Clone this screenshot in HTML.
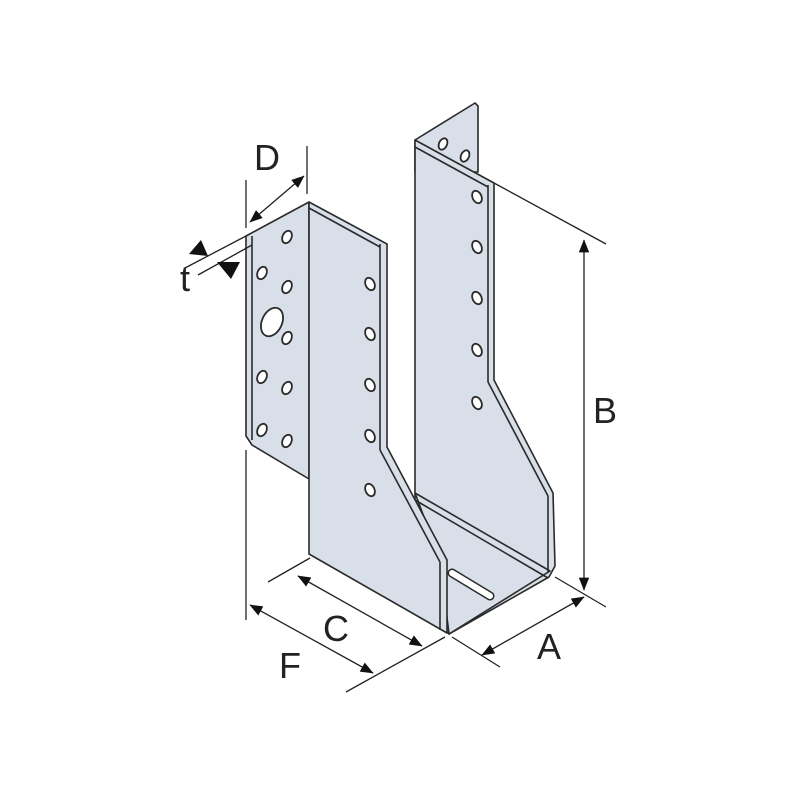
<!DOCTYPE html>
<html><head><style>html,body{margin:0;padding:0;background:#fff;}svg{display:block}</style></head>
<body>
<svg width="800" height="800" viewBox="0 0 800 800" xmlns="http://www.w3.org/2000/svg">
<defs>
<marker id="ar" viewBox="0 0 10 10" refX="9.5" refY="5" markerWidth="13" markerHeight="13" orient="auto-start-reverse" markerUnits="userSpaceOnUse"><path d="M0,1 L10,5 L0,9 z" fill="#111"/></marker>
</defs>
<g stroke="#2a2a2a" stroke-width="1.6" stroke-linejoin="round" fill="#d8dfe8">
<polygon points="415,140 475,103 478,106 478,172 415,172"/>
<polygon points="415,140 494,183 494,380 553,493 555,566 549,577 449,634 415,600"/>
<polygon points="415,493 550,571 449,634 440,560"/>
<line x1="415" y1="500" x2="548" y2="578"/>
<polygon points="246,236 309,202 309,479 252,445 246,436"/>
<line x1="252" y1="236" x2="252" y2="440"/>
<polygon points="309,202 387,244 387,447 447,560 447,633 309,554"/>
<line x1="380" y1="244" x2="380" y2="450"/>
<line x1="380" y1="450" x2="440" y2="562"/>
<line x1="440" y1="562" x2="440" y2="630"/>
<line x1="309" y1="208" x2="380" y2="247"/>
<line x1="488" y1="185" x2="488" y2="382"/>
<line x1="488" y1="382" x2="548" y2="496"/>
<line x1="548" y1="496" x2="548" y2="572"/>
<line x1="415" y1="147" x2="488" y2="187"/>
</g>
<line x1="452" y1="573" x2="490" y2="596" stroke="#2a2a2a" stroke-width="9" stroke-linecap="round"/>
<line x1="452" y1="573" x2="490" y2="596" stroke="#fff" stroke-width="6" stroke-linecap="round"/>
<g fill="#fff" stroke="#2a2a2a" stroke-width="1.8">
<ellipse cx="287" cy="237" rx="4.5" ry="6.5" transform="rotate(25 287 237)"/>
<ellipse cx="262" cy="273" rx="4.5" ry="6.5" transform="rotate(25 262 273)"/>
<ellipse cx="287" cy="287" rx="4.5" ry="6.5" transform="rotate(25 287 287)"/>
<ellipse cx="272" cy="322" rx="10" ry="15" transform="rotate(25 272 322)"/>
<ellipse cx="287" cy="338" rx="4.5" ry="6.5" transform="rotate(25 287 338)"/>
<ellipse cx="262" cy="377" rx="4.5" ry="6.5" transform="rotate(25 262 377)"/>
<ellipse cx="287" cy="388" rx="4.5" ry="6.5" transform="rotate(25 287 388)"/>
<ellipse cx="262" cy="430" rx="4.5" ry="6.5" transform="rotate(25 262 430)"/>
<ellipse cx="287" cy="441" rx="4.5" ry="6.5" transform="rotate(25 287 441)"/>
<ellipse cx="370" cy="284" rx="4.5" ry="6.5" transform="rotate(-25 370 284)"/>
<ellipse cx="370" cy="334" rx="4.5" ry="6.5" transform="rotate(-25 370 334)"/>
<ellipse cx="370" cy="385" rx="4.5" ry="6.5" transform="rotate(-25 370 385)"/>
<ellipse cx="370" cy="436" rx="4.5" ry="6.5" transform="rotate(-25 370 436)"/>
<ellipse cx="370" cy="490" rx="4.5" ry="6.5" transform="rotate(-25 370 490)"/>
<ellipse cx="477" cy="197" rx="4.5" ry="6.5" transform="rotate(-25 477 197)"/>
<ellipse cx="477" cy="247" rx="4.5" ry="6.5" transform="rotate(-25 477 247)"/>
<ellipse cx="477" cy="298" rx="4.5" ry="6.5" transform="rotate(-25 477 298)"/>
<ellipse cx="477" cy="350" rx="4.5" ry="6.5" transform="rotate(-25 477 350)"/>
<ellipse cx="477" cy="403" rx="4.5" ry="6.5" transform="rotate(-25 477 403)"/>
<ellipse cx="443" cy="144" rx="4" ry="6" transform="rotate(25 443 144)"/>
<ellipse cx="465" cy="156" rx="4" ry="6" transform="rotate(25 465 156)"/>
</g>
<g stroke="#222" stroke-width="1.3" fill="none">
<line x1="246" y1="180" x2="246" y2="228"/>
<line x1="307" y1="146" x2="307" y2="194"/>
<line x1="250" y1="222" x2="304" y2="176" marker-start="url(#ar)" marker-end="url(#ar)"/>
<line x1="185" y1="268" x2="246" y2="236"/>
<line x1="198" y1="275" x2="252" y2="245"/>
<line x1="494" y1="183" x2="606" y2="244"/>
<line x1="555" y1="577" x2="606" y2="607"/>
<line x1="584" y1="240" x2="584" y2="590" marker-start="url(#ar)" marker-end="url(#ar)"/>
<line x1="452" y1="637" x2="500" y2="667"/>
<line x1="482" y1="655" x2="584" y2="597" marker-start="url(#ar)" marker-end="url(#ar)"/>
<line x1="268" y1="582" x2="310" y2="558"/>
<line x1="346" y1="692" x2="445" y2="637"/>
<line x1="298" y1="576" x2="422" y2="646" marker-start="url(#ar)" marker-end="url(#ar)"/>
<line x1="246" y1="450" x2="246" y2="620"/>
<line x1="250" y1="605" x2="373" y2="673" marker-start="url(#ar)" marker-end="url(#ar)"/>
</g>
<polygon points="189,254 201,240 208,256" fill="#111"/>
<polygon points="217,262 240,262 231,279" fill="#111"/>
<g font-family="Liberation Sans, sans-serif" font-size="36" fill="#222">
<text x="254" y="170">D</text>
<text x="180" y="291">t</text>
<text x="593" y="423">B</text>
<text x="537" y="659">A</text>
<text x="323" y="641">C</text>
<text x="279" y="678">F</text>
</g>
</svg>
</body></html>
